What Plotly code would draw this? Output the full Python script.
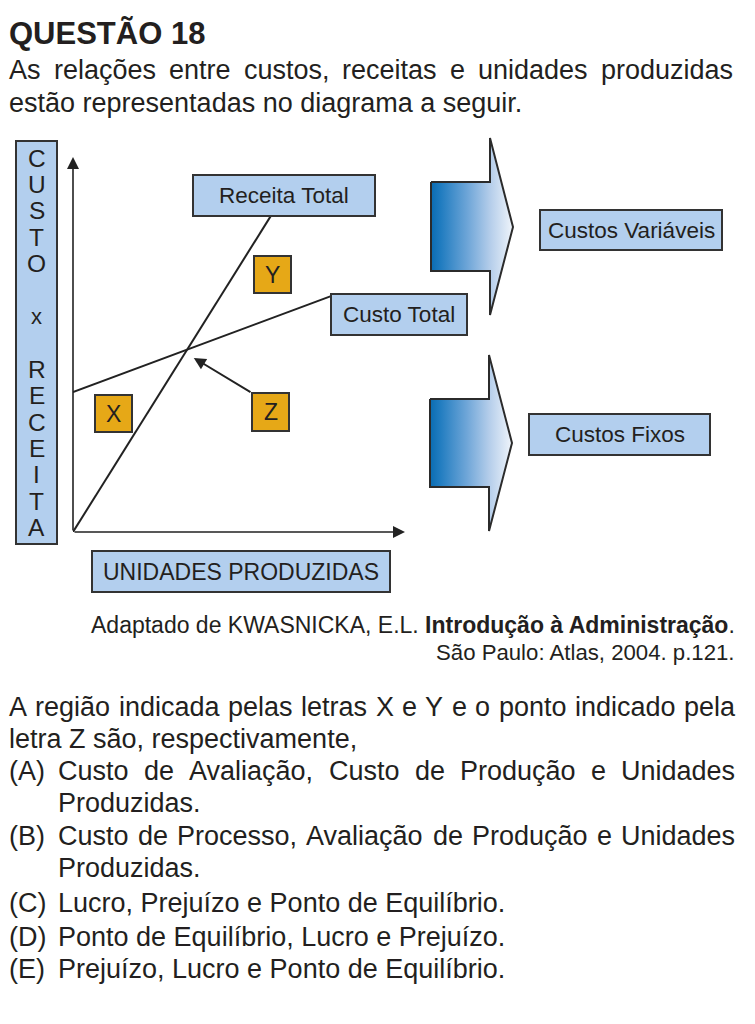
import unicodedata
import plotly.graph_objects as go

# ---------------- data ----------------
unidades_receita = [0, 5.96]
receita_total = [0, 8.43]
unidades_custo = [0, 7.77]
custo_total = [3.73, 6.29]

eixo_y_letras = ["C", "U", "S", "T", "O", "", "x", "", "R", "E", "C", "E", "I", "T", "A"]
eixo_x_titulo = "UNIDADES PRODUZIDAS"
rotulos_linhas = ["Receita Total", "Custo Total"]
marcadores = ["X", "Y", "Z"]
categorias_custo = ["Custos Variáveis", "Custos Fixos"]

titulo = "QUESTÃO 18"
enunciado = ["As relações entre custos, receitas e unidades produzidas",
             "estão representadas no diagrama a seguir."]
fonte = ["Adaptado de KWASNICKA, E.L. <b>Introdução à Administração</b>.",
         "São Paulo: Atlas, 2004. p.121."]
pergunta = ["A região indicada pelas letras X e Y e o ponto indicado pela",
            "letra Z são, respectivamente,"]
alternativas_rotulos = ["(A)", "(B)", "(C)", "(D)", "(E)"]
alternativas = [
    ["Custo de Avaliação, Custo de Produção e Unidades", "Produzidas."],
    ["Custo de Processo, Avaliação de Produção e Unidades", "Produzidas."],
    ["Lucro, Prejuízo e Ponto de Equilíbrio."],
    ["Ponto de Equilíbrio, Lucro e Prejuízo."],
    ["Prejuízo, Lucro e Ponto de Equilíbrio."],
]

# ---------------- layout constants ----------------
W, H = 755, 1024
OFF = 8                 # default page body margin
FW, FH = W - OFF, H - OFF
PX0, PX1 = 73, 405      # diagram x-axis page-pixel extent
PY0, PY1 = 532, 157     # diagram y-axis page-pixel extent (bottom, top)
X_MAX = Y_MAX = 10.0

FONT = "Liberation Sans, Arial, Helvetica, sans-serif"
TXT = "#231f20"
BLUE = "#b3cfee"
ORANGE = "#e6a817"
EDGE = "#333333"
BODY = 27
LEFT, RIGHT = 9, 735

# Arial / Liberation Sans advance widths (per 1000 em)
AW = {' ': 278, ',': 278, '.': 278, ':': 278, '(': 333, ')': 333, '-': 333,
      'A': 667, 'B': 667, 'C': 722, 'D': 722, 'E': 667, 'F': 611, 'G': 778, 'H': 722,
      'I': 278, 'J': 500, 'K': 667, 'L': 556, 'M': 833, 'N': 722, 'O': 778, 'P': 667,
      'Q': 778, 'R': 722, 'S': 667, 'T': 611, 'U': 722, 'V': 667, 'W': 944, 'X': 667,
      'Y': 667, 'Z': 611,
      'a': 556, 'b': 556, 'c': 500, 'd': 556, 'e': 556, 'f': 278, 'g': 556, 'h': 556,
      'i': 222, 'j': 222, 'k': 500, 'l': 222, 'm': 833, 'n': 556, 'o': 556, 'p': 556,
      'q': 556, 'r': 333, 's': 500, 't': 278, 'u': 556, 'v': 500, 'w': 722, 'x': 500,
      'y': 500, 'z': 500}


def tw(s, size):
    tot = 0
    for ch in s:
        if ch == 'í':
            tot += 278
            continue
        base = unicodedata.normalize('NFD', ch)[0]
        tot += AW.get(base, 556)
    return tot * size / 1000.0


annotations = []
shapes = []


def text(s, x, y, size=BODY, anchor="left", ref=("x", "y"), color=TXT, family=FONT):
    annotations.append(dict(text=s, x=x, y=y, xref=ref[0], yref=ref[1],
                            xanchor=anchor, yanchor="middle", showarrow=False,
                            borderpad=0, borderwidth=0,
                            font=dict(family=family, size=size, color=color)))


def justified(line, x0, x1, y, size=BODY):
    words = line.split(" ")
    widths = [tw(w, size) for w in words]
    gap = (x1 - x0 - sum(widths)) / (len(words) - 1)
    x = x0
    for w, wd in zip(words, widths):
        text(w, x, y, size)
        x += wd + gap


def box(x0, y0, x1, y1, fill, label=None, size=22):
    shapes.append(dict(type="rect", xref="x", yref="y", x0=x0, x1=x1, y0=y0, y1=y1,
                       fillcolor=fill, line=dict(color=EDGE, width=2), layer="above"))
    if label:
        text(label, (x0 + x1) / 2, (y0 + y1) / 2, size, anchor="center")


def to_units(px, py):
    return ((px - PX0) / (PX1 - PX0) * X_MAX, (PY0 - py) / (PY0 - PY1) * Y_MAX)


fig = go.Figure()

# ---------------- diagram lines (data) ----------------
fig.add_trace(go.Scatter(x=unidades_receita, y=receita_total, mode="lines",
                         line=dict(color="#222", width=2), xaxis="x2", yaxis="y2",
                         hoverinfo="skip", name=rotulos_linhas[0]))
fig.add_trace(go.Scatter(x=unidades_custo, y=custo_total, mode="lines",
                         line=dict(color="#222", width=2), xaxis="x2", yaxis="y2",
                         hoverinfo="skip", name=rotulos_linhas[1]))

# axes arrows
annotations.append(dict(x=X_MAX, y=0, ax=0, ay=0, xref="x2", yref="y2", axref="x2", ayref="y2",
                        text="", showarrow=True, arrowhead=2, arrowsize=1.5, arrowwidth=1.6,
                        arrowcolor="#222", standoff=0))
annotations.append(dict(x=0, y=Y_MAX, ax=0, ay=0, xref="x2", yref="y2", axref="x2", ayref="y2",
                        text="", showarrow=True, arrowhead=2, arrowsize=1.5, arrowwidth=1.6,
                        arrowcolor="#222", standoff=0))

# break-even point (intersection) and Z pointer
sr = (receita_total[1] - receita_total[0]) / (unidades_receita[1] - unidades_receita[0])
sc = (custo_total[1] - custo_total[0]) / (unidades_custo[1] - unidades_custo[0])
bx = (custo_total[0] - receita_total[0]) / (sr - sc)
by = receita_total[0] + sr * bx
tx, ty = to_units(252, 393)
annotations.append(dict(x=bx + 0.2, y=by - 0.22, ax=tx, ay=ty, xref="x2", yref="y2",
                        axref="x2", ayref="y2", text="", showarrow=True, arrowhead=2,
                        arrowsize=1.2, arrowwidth=2, arrowcolor="#222", standoff=0))

# ---------------- block arrows with gradient ----------------
grad = [[0, "#0a6cb2"], [0.12, "#207cc0"], [0.45, "#6fa6d8"], [0.72, "#b4cdea"], [1, "#f0f5fb"]]
for (xl, xs, xt, yt, yb, hy0, hy1, ty_) in [(431, 490, 513, 182, 271, 138, 315, 227),
                                              (430, 489, 512, 399, 487, 355, 531, 443)]:
    fig.add_trace(go.Scatter(
        x=[xl, xs, xs, xt, xs, xs, xl, xl],
        y=[yt, yt, hy0, ty_, hy1, yb, yb, yt],
        mode="lines", fill="toself",
        fillgradient=dict(type="horizontal", colorscale=grad),
        line=dict(color="#2b2b2b", width=2), xaxis="x", yaxis="y", hoverinfo="skip"))

# ---------------- boxes ----------------
box(16, 141, 57, 544, BLUE)
for i, ch in enumerate(eixo_y_letras):
    if ch:
        text(ch, 36.5, 158 + i * 26.4, 24.5 if ch != "x" else 22, anchor="center")
box(92, 551, 390, 592, BLUE, eixo_x_titulo, 23)
box(193, 175, 375, 216, BLUE, rotulos_linhas[0], 22.5)
box(331, 294, 467, 335, BLUE, rotulos_linhas[1], 22.5)
box(95, 395, 132, 432, ORANGE, marcadores[0], 23)
box(254, 256, 291, 293, ORANGE, marcadores[1], 23)
box(252, 393, 289, 431, ORANGE, marcadores[2], 23)
box(540, 210, 722, 250, BLUE, categorias_custo[0], 22.5)
box(529, 414, 710, 455, BLUE, categorias_custo[1], 22.5)

# ---------------- text ----------------
text("<b>" + titulo + "</b>", LEFT, 33, 31)
justified(enunciado[0], LEFT, RIGHT - 2, 70)
text(enunciado[1], LEFT, 103)
text(fonte[0], RIGHT, 625, 23, anchor="right")
text(fonte[1], RIGHT, 652, 22.2, anchor="right")
justified(pergunta[0], LEFT, RIGHT, 707)
text(pergunta[1], LEFT, 739)

rows_y = [[771, 803], [836, 868], [903], [937], [969]]
for lab, lines, ys in zip(alternativas_rotulos, alternativas, rows_y):
    text(lab, LEFT, ys[0])
    for j, (ln, yy) in enumerate(zip(lines, ys)):
        if j == 0 and len(lines) > 1:
            justified(ln, 58, RIGHT, yy)
        else:
            text(ln, 58, yy)

fig.update_layout(
    width=FW, height=FH, margin=dict(l=0, r=0, t=0, b=0),
    paper_bgcolor="white", plot_bgcolor="rgba(0,0,0,0)", showlegend=False,
    xaxis=dict(domain=[0, 1], range=[OFF, W], visible=False, fixedrange=True),
    yaxis=dict(domain=[0, 1], range=[H, OFF], visible=False, fixedrange=True),
    xaxis2=dict(domain=[(PX0 - OFF) / FW, (PX1 - OFF) / FW], range=[0, X_MAX], visible=False,
                fixedrange=True, anchor="y2"),
    yaxis2=dict(domain=[1 - (PY0 - OFF) / FH, 1 - (PY1 - OFF) / FH], range=[0, Y_MAX],
                visible=False, fixedrange=True, anchor="x2"),
    annotations=annotations, shapes=shapes,
)

fig.write_html("out.html", config={"displayModeBar": False})
